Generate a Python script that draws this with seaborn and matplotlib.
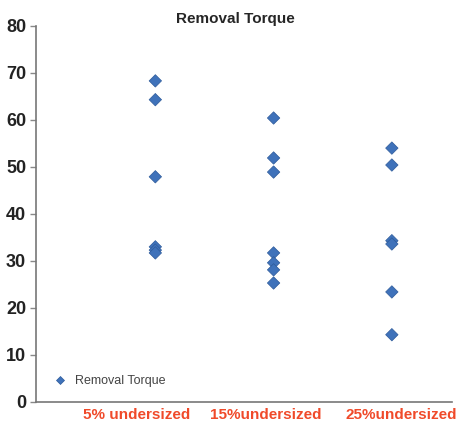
import matplotlib
matplotlib.use("Agg")
import matplotlib.pyplot as plt
import seaborn as sns
import pandas as pd

categories = ["5% undersized", "15%undersized", "25%undersized"]
g1 = [68.3, 64.3, 47.9, 33.0, 32.3, 31.7]
g2 = [60.4, 51.9, 48.9, 31.7, 29.6, 28.1, 25.3]
g3 = [54.0, 50.4, 34.3, 33.6, 23.4, 14.3]
yticks = [0, 10, 20, 30, 40, 50, 60, 70, 80]

rows = []
for i, vals in enumerate([g1, g2, g3]):
    for v in vals:
        rows.append({"x": i + 1, "torque": v, "series": "Removal Torque"})
df = pd.DataFrame(rows)

sns.set_style("white")
plt.rcParams["font.family"] = ["Liberation Sans", "DejaVu Sans"]
fig = plt.figure(figsize=(4.6, 4.24), dpi=100)
ax = fig.add_axes([0.078, 0.052, 0.905, 0.887])

sns.scatterplot(data=df, x="x", y="torque", hue="series", palette=["#3f72ba"],
                marker="D", s=40, edgecolor="#2d5a9a", linewidth=0.5, ax=ax)

ax.set_xlim(-0.01, 3.51)
ax.set_ylim(0, 80)
ax.set_yticks(yticks)
ax.set_yticklabels([str(t) for t in yticks], fontsize=13, fontweight="bold", color="#222222")
ax.set_xticks([0.84, 1.93, 3.08])
ax.set_xticklabels(categories, fontsize=11, fontweight="bold", color="#f04a2a")
ax.tick_params(axis="x", length=0, pad=4)
ax.tick_params(axis="y", length=4, width=1, color="#888888", pad=3, left=True)
ax.set_xlabel("")
ax.set_ylabel("")
ax.set_title("Removal Torque", fontsize=11, fontweight="bold", pad=2, x=0.48)
for s in ["top", "right"]:
    ax.spines[s].set_visible(False)
for s in ["left", "bottom"]:
    ax.spines[s].set_color("#777777")
    ax.spines[s].set_linewidth(1.2)

leg = ax.legend(loc="lower left", frameon=False, fontsize=9, handletextpad=0.2,
                bbox_to_anchor=(0.0, 0.01), markerscale=0.7, labelcolor="#444444")

fig.savefig("out.png", dpi=100)
